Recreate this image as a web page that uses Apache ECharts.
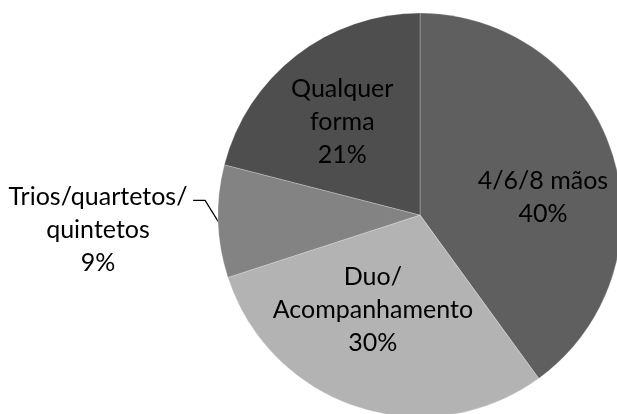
<!DOCTYPE html>
<html>
<head>
<meta charset="utf-8">
<script src="https://cdn.jsdelivr.net/npm/echarts@6/dist/echarts.min.js"></script>
<style>
  html, body { margin: 0; padding: 0; background: #fff; }
  #chart { width: 617px; height: 414px; }
</style>
</head>
<body>
<div id="chart"></div>
<script>
// fatias no sentido horário a partir do topo
const categories = ["4/6/8 mãos", "Duo/\nAcompanhamento", "Trios/quartetos/\nquintetos", "Qualquer\nforma"];
const percents = [40, 30, 9, 21];
const colors = ["#5f5f5f", "#b3b3b3", "#838383", "#4e4e4e"];

// deslocamento dos rótulos internos (estilo Excel)
const labelShift = [
  { dx: 24, dy: 15 },
  { dx: -15, dy: -4 },
  null,
  { dx: -14, dy: -11 },
];

const chart = echarts.init(document.getElementById("chart"));
chart.setOption({
  backgroundColor: "#fff",
  animation: false,
  series: [
    {
      type: "pie",
      center: [420, 215],
      radius: [0, 202],
      startAngle: 90,
      clockwise: true,
      label: {
        show: true,
        position: "inside",
        formatter: "{b}\n{c}%",
        color: "#000",
        fontFamily: "Lato",
        fontSize: 25,
        lineHeight: 33,
        align: "center",
      },
      labelLine: { show: false },
      itemStyle: { borderColor: "rgba(255,255,255,0.25)", borderWidth: 1 },
      data: categories.map((name, i) => ({
        name: name,
        value: percents[i],
        itemStyle: { color: colors[i] },
        ...(i === 2
          ? {
              label: { position: "outside" },
              labelLine: {
                show: true,
                length: 14,
                length2: 8,
                lineStyle: { color: "#000", width: 1.2 },
              },
            }
          : {}),
      })),
      labelLayout: (params) => {
        if (params.dataIndex === 2) {
          const p0 = params.labelLinePoints ? params.labelLinePoints[0] : [218, 224];
          const p1 = [p0[0] - 13, p0[1] - 21];
          const p2 = [p1[0] - 12, p1[1]];
          return {
            x: 98, y: 230, align: "center", verticalAlign: "middle",
            labelLinePoints: [p0, p1, p2],
          };
        }
        return labelShift[params.dataIndex];
      },
    },
  ],
});
</script>
</body>
</html>
